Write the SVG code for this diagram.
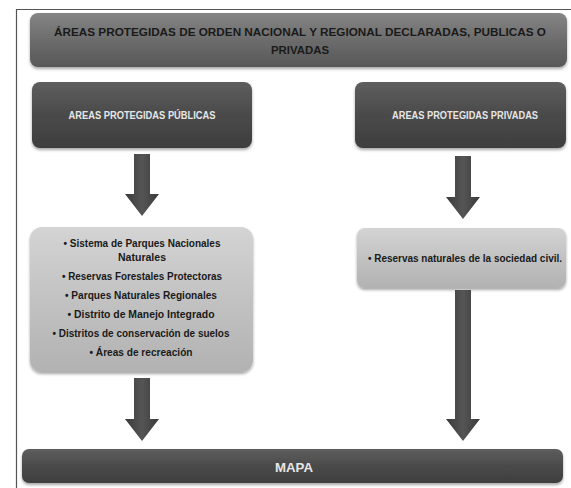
<svg xmlns="http://www.w3.org/2000/svg" width="571" height="488" viewBox="0 0 571 488">
  <style>
    .t { font-family: "Liberation Sans", Arial, sans-serif; font-weight: bold; text-anchor: middle; }
    .dark { fill: #1a1a1a; }
    .light { fill: #e6e6e6; }
  </style>
  <defs>
    <linearGradient id="gBanner" x1="0" y1="0" x2="0" y2="1">
      <stop offset="0" stop-color="#858585"/>
      <stop offset="0.5" stop-color="#6c6c6c"/>
      <stop offset="1" stop-color="#585858"/>
    </linearGradient>
    <linearGradient id="gDark" x1="0" y1="0" x2="0" y2="1">
      <stop offset="0" stop-color="#5e5e5e"/>
      <stop offset="0.5" stop-color="#4a4a4a"/>
      <stop offset="1" stop-color="#3e3e3e"/>
    </linearGradient>
    <linearGradient id="gLight" x1="0" y1="0" x2="0" y2="1">
      <stop offset="0" stop-color="#d4d4d4"/>
      <stop offset="0.5" stop-color="#c2c2c2"/>
      <stop offset="1" stop-color="#b2b2b2"/>
    </linearGradient>
    <linearGradient id="gArrow" x1="0" y1="0" x2="1" y2="0">
      <stop offset="0" stop-color="#3a3a3a"/>
      <stop offset="0.5" stop-color="#555555"/>
      <stop offset="1" stop-color="#3a3a3a"/>
    </linearGradient>
    <filter id="shadow" x="-5%" y="-10%" width="110%" height="130%">
      <feGaussianBlur in="SourceAlpha" stdDeviation="1.5"/>
      <feOffset dx="0" dy="2" result="b"/>
      <feComponentTransfer><feFuncA type="linear" slope="0.35"/></feComponentTransfer>
      <feMerge><feMergeNode/><feMergeNode in="SourceGraphic"/></feMerge>
    </filter>
  </defs>

  <rect width="571" height="488" fill="#ffffff"/>
  <!-- outer frame -->
  <path d="M16.5 488 V9.5 H571" fill="none" stroke="#555" stroke-width="1.2"/>

  <g id="title">
    <rect x="30" y="13" width="537" height="54" rx="8" fill="url(#gBanner)" filter="url(#shadow)"/>
    <text class="t dark" x="300" y="35.5" font-size="11.5" textLength="492" lengthAdjust="spacingAndGlyphs">ÁREAS PROTEGIDAS DE ORDEN NACIONAL Y REGIONAL DECLARADAS, PUBLICAS O</text>
    <text class="t dark" x="300" y="53.5" font-size="11.5" textLength="58" lengthAdjust="spacingAndGlyphs">PRIVADAS</text>
  </g>

  <g id="publicas">
    <rect x="32" y="82" width="220" height="66" rx="8" fill="url(#gDark)" filter="url(#shadow)"/>
    <text class="t light" x="142" y="119" font-size="10.5" textLength="147" lengthAdjust="spacingAndGlyphs">AREAS PROTEGIDAS PÚBLICAS</text>
  </g>

  <g id="privadas">
    <rect x="355" y="82" width="211" height="66" rx="8" fill="url(#gDark)" filter="url(#shadow)"/>
    <text class="t light" x="465" y="119" font-size="10.5" textLength="146" lengthAdjust="spacingAndGlyphs">AREAS PROTEGIDAS PRIVADAS</text>
  </g>

  <g id="lista-publicas">
    <rect x="30" y="227" width="223" height="145" rx="12" fill="url(#gLight)" filter="url(#shadow)"/>
    <g class="t dark" font-size="10.5">
      <text x="142" y="247" textLength="157" lengthAdjust="spacingAndGlyphs">• Sistema de Parques Nacionales</text>
      <text x="142" y="261" textLength="48" lengthAdjust="spacingAndGlyphs">Naturales</text>
      <text x="142" y="280" textLength="160" lengthAdjust="spacingAndGlyphs">• Reservas Forestales Protectoras</text>
      <text x="141" y="299" textLength="152" lengthAdjust="spacingAndGlyphs">• Parques Naturales Regionales</text>
      <text x="141" y="318" textLength="147" lengthAdjust="spacingAndGlyphs">• Distrito de Manejo Integrado</text>
      <text x="141" y="337" textLength="177" lengthAdjust="spacingAndGlyphs">• Distritos de conservación de suelos</text>
      <text x="141" y="356" textLength="103" lengthAdjust="spacingAndGlyphs">• Áreas de recreación</text>
    </g>
  </g>

  <g id="lista-privadas">
    <rect x="357" y="228" width="209" height="60" rx="8" fill="url(#gLight)" filter="url(#shadow)"/>
    <text class="t dark" x="465" y="262" font-size="10" textLength="194" lengthAdjust="spacingAndGlyphs">• Reservas naturales de la sociedad civil.</text>
  </g>

  <g id="mapa">
    <rect x="22" y="449" width="541" height="34" rx="7" fill="url(#gDark)" filter="url(#shadow)"/>
    <text class="t light" x="294" y="472" font-size="12" textLength="38" lengthAdjust="spacingAndGlyphs">MAPA</text>
  </g>

  <g id="connectors" fill="url(#gArrow)">
    <path d="M134 154 H150 V194 H159 L142 216 L125 194 H134 Z"/>
    <path d="M455 156 H471 V197 H480 L463 219 L446 197 H455 Z"/>
    <path d="M134 378 H150 V419 H159 L142 441 L125 419 H134 Z"/>
    <path d="M455 290 H471 V419 H480 L463 441 L446 419 H455 Z"/>
  </g>
</svg>
